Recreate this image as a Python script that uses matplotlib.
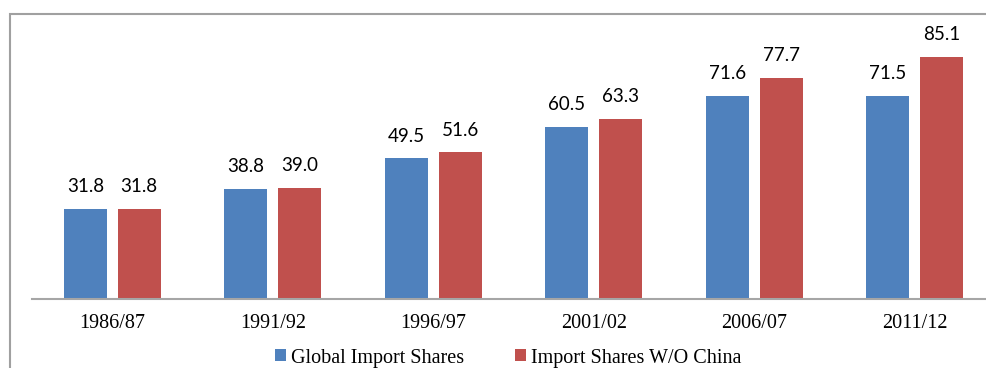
import matplotlib
matplotlib.use("Agg")
import matplotlib.pyplot as plt
from matplotlib.patches import Rectangle
from matplotlib.font_manager import FontProperties
import numpy as np

categories = ["1986/87", "1991/92", "1996/97", "2001/02", "2006/07", "2011/12"]
global_shares = [31.8, 38.8, 49.5, 60.5, 71.6, 71.5]
wo_china = [31.8, 39.0, 51.6, 63.3, 77.7, 85.1]
series_names = ["Global Import Shares", "Import Shares W/O China"]
colors = ["#4F81BD", "#C0504D"]

W, H = 987, 368
fig = plt.figure(figsize=(W / 100, H / 100), dpi=100)

# outer frame (extends beyond right and bottom edges)
fig.patches.append(Rectangle((10 / W, -0.5), 1.5, 0.5 + (H - 14) / H, transform=fig.transFigure,
                             fill=False, edgecolor="#A0A0A0", linewidth=1.5))

ax = fig.add_axes([32 / W, (H - 299) / H, 963 / W, (299 - 15) / H])
x = np.arange(len(categories))
bw = 0.268
off = 0.168
b1 = ax.bar(x - off, global_shares, bw, color=colors[0], label=series_names[0])
b2 = ax.bar(x + off, wo_china, bw, color=colors[1], label=series_names[1])

for bars, vals in ((b1, global_shares), (b2, wo_china)):
    for r, v in zip(bars, vals):
        ax.annotate(f"{v:.1f}", (r.get_x() + r.get_width() / 2, v), xytext=(0, 10),
                    textcoords="offset points", ha="center", va="bottom",
                    fontsize=13.5, family="Lato", color="black")

ax.set_xlim(-0.5, len(categories) - 0.5)
ax.set_ylim(0, 100)
ax.set_xticks(x)
ax.set_xticklabels(categories, fontsize=14.5, family="Liberation Serif")
ax.tick_params(axis="x", length=0, pad=11)
ax.set_yticks([])
for s in ("top", "right", "left"):
    ax.spines[s].set_visible(False)
ax.spines["bottom"].set_color("#A6A6A6")
ax.spines["bottom"].set_linewidth(1.5)
ax.patch.set_alpha(0)

fp = FontProperties(family="Liberation Serif", size=14.5)
leg = fig.legend(handles=[b1, b2], labels=series_names, loc="center",
                 bbox_to_anchor=(508 / W, (H - 358) / H), ncol=2, frameon=False,
                 prop=fp, handlelength=0.55, handleheight=0.55, handletextpad=0.25,
                 columnspacing=2.5, borderpad=0, borderaxespad=0)
for t in leg.get_texts():
    t.set_fontproperties(fp)

fig.savefig("out.png", dpi=100)
